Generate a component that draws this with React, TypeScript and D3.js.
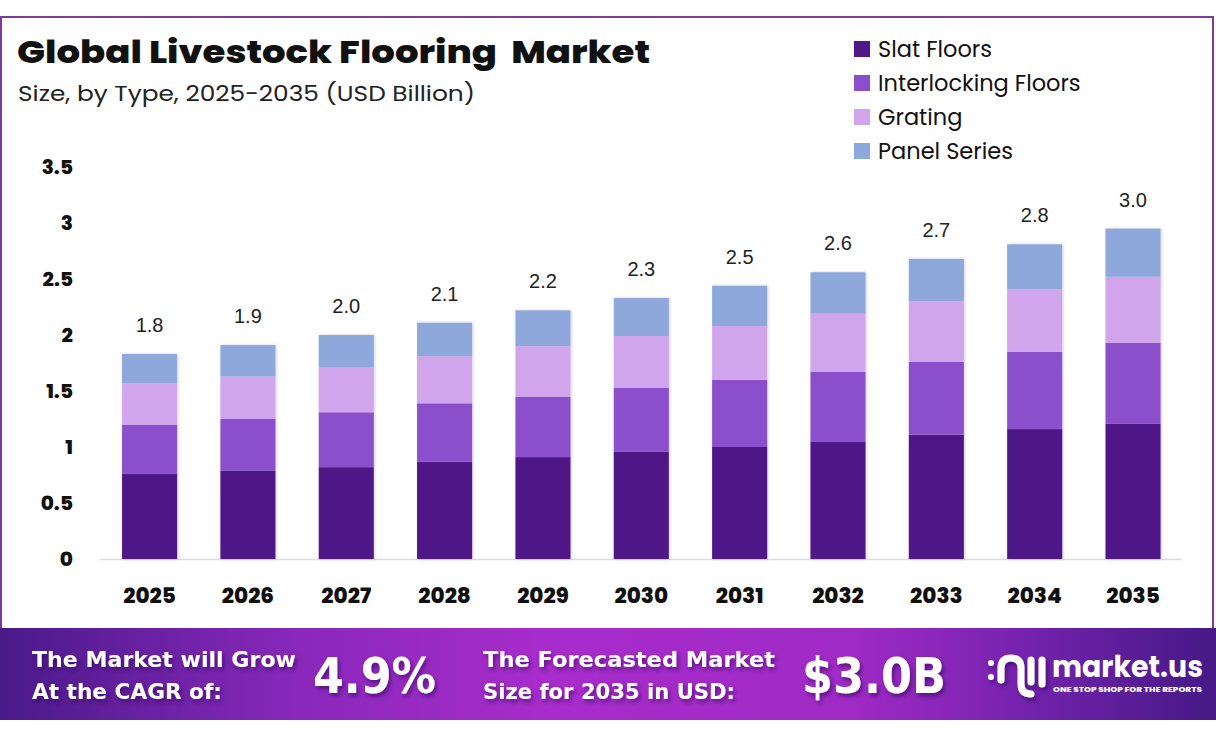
import React from "react";
import * as d3 from "d3";

const years = ["2025","2026","2027","2028","2029","2030","2031","2032","2033","2034","2035"];
const slatFloors = [0.76,0.79,0.82,0.87,0.91,0.96,1.0,1.05,1.11,1.16,1.21];
const interlockingFloors = [0.44,0.46,0.49,0.52,0.54,0.57,0.6,0.62,0.65,0.69,0.72];
const grating = [0.37,0.38,0.4,0.42,0.45,0.46,0.48,0.52,0.54,0.56,0.59];
const panelSeries = [0.26,0.28,0.29,0.3,0.32,0.34,0.36,0.37,0.38,0.4,0.43];
const totalLabels = ["1.8","1.9","2.0","2.1","2.2","2.3","2.5","2.6","2.7","2.8","3.0"];
const seriesNames = ["Slat Floors","Interlocking Floors","Grating","Panel Series"];
const seriesColors = ["#4f1787","#8b4fcc","#d1a5ec","#8ea8dc"];
const yTicks = [0,0.5,1,1.5,2,2.5,3,3.5];

const W = 1216, H = 738;

export default function App() {
  const x = d3.scaleBand<string>().domain(years).range([100.4, 1182.2]).paddingInner(0.44).paddingOuter(0.22);
  const y = d3.scaleLinear().domain([0, 3.5]).range([559, 167]);
  const table = years.map((yr, i) => ({
    year: yr,
    "Slat Floors": slatFloors[i],
    "Interlocking Floors": interlockingFloors[i],
    "Grating": grating[i],
    "Panel Series": panelSeries[i],
  }));
  const stack = d3.stack<any>().keys(seriesNames)(table);
  const totals = years.map((_, i) => slatFloors[i] + interlockingFloors[i] + grating[i] + panelSeries[i]);
  const font = "Poppins, Inter, 'Open Sans', sans-serif";

  return (
    <svg width={W} height={H} style={{ position: "absolute", left: 0, top: 0, background: "#fff" }} fontFamily={font}>
      <defs>
        <linearGradient id="foot" x1="0" x2="1" y1="0" y2="0">
          <stop offset="0" stopColor="#4a1a8a" />
          <stop offset="0.25" stopColor="#8a28bc" />
          <stop offset="0.45" stopColor="#a82ccb" />
          <stop offset="0.7" stopColor="#a02ac6" />
          <stop offset="0.85" stopColor="#7222ac" />
          <stop offset="1" stopColor="#461985" />
        </linearGradient>
        <filter id="barShadow" x="-20%" y="-10%" width="140%" height="120%">
          <feDropShadow dx="1" dy="0" stdDeviation="1.5" floodColor="#000" floodOpacity="0.18" />
        </filter>
        <filter id="txtShadow" x="-10%" y="-10%" width="130%" height="140%">
          <feDropShadow dx="2" dy="3" stdDeviation="2" floodColor="#2a0050" floodOpacity="0.55" />
        </filter>
      </defs>

      {/* frame */}
      <rect x={1} y={17} width={1212} height={620} fill="#fff" stroke="#7b3b9e" strokeWidth={2} />

      {/* title */}
      <text x={17} y={63} fontSize={32} fontWeight={800} fill="#111" textLength={633} lengthAdjust="spacingAndGlyphs">{"Global Livestock Flooring\u00A0 Market"}</text>
      <text x={18} y={101} fontSize={22} fontWeight={400} fill="#222" textLength={457} lengthAdjust="spacingAndGlyphs">Size, by Type, 2025-2035 (USD Billion)</text>

      {/* legend */}
      {seriesNames.map((n, i) => (
        <g key={n} transform={`translate(854, ${49 + i * 34})`}>
          <rect x={0} y={-8} width={16} height={16} fill={seriesColors[i]} />
          <text x={24} y={8} fontSize={22.5} fill="#111">{n}</text>
        </g>
      ))}

      {/* baseline */}
      <line x1={100} x2={1182} y1={559.5} y2={559.5} stroke="#dcdcdc" strokeWidth={1.5} />

      {/* y ticks */}
      {yTicks.map((t) => (
        <text key={t} x={73} y={y(t)} dy="0.35em" textAnchor="end" fontSize={20} fontWeight={800} fill="#111">{String(t)}</text>
      ))}

      {/* bars */}
      <g filter="url(#barShadow)">
        {stack.map((s, si) =>
          s.map((d, i) => (
            <rect key={`${si}-${i}`} x={x(years[i])} y={y(d[1])} width={x.bandwidth()} height={y(d[0]) - y(d[1])} fill={seriesColors[si]} />
          ))
        )}
      </g>

      {/* totals */}
      {years.map((yr, i) => (
        <text key={yr} x={(x(yr) as number) + x.bandwidth() / 2} y={y(totals[i]) - 22} textAnchor="middle" fontSize={20} fill="#222" fontFamily="'Liberation Sans', Arial, sans-serif">{totalLabels[i]}</text>
      ))}

      {/* x labels */}
      {years.map((yr) => (
        <text key={yr} x={(x(yr) as number) + x.bandwidth() / 2} y={603} textAnchor="middle" fontSize={21.5} fontWeight={800} fill="#111">{yr}</text>
      ))}

      {/* footer */}
      <rect x={0} y={628} width={W} height={92} fill="url(#foot)" />
      <g fill="#fff" fontFamily="'DejaVu Sans Condensed', 'Roboto Condensed', Roboto, sans-serif" fontWeight={700} filter="url(#txtShadow)">
        <text x={32} y={667} fontSize={22} textLength={264} lengthAdjust="spacingAndGlyphs">The Market will Grow</text>
        <text x={32} y={699} fontSize={22} textLength={190} lengthAdjust="spacingAndGlyphs">At the CAGR of:</text>
        <text x={313} y={693} fontSize={50} textLength={123} lengthAdjust="spacingAndGlyphs">4.9%</text>
        <text x={483} y={667} fontSize={22} textLength={292} lengthAdjust="spacingAndGlyphs">The Forecasted Market</text>
        <text x={483} y={699} fontSize={22} textLength={252} lengthAdjust="spacingAndGlyphs">Size for 2035 in USD:</text>
        <text x={802} y={693} fontSize={50} textLength={144} lengthAdjust="spacingAndGlyphs">$3.0B</text>
      </g>

      {/* logo */}
      <g fill="none" stroke="#fff" strokeWidth={7} strokeLinecap="round" filter="url(#txtShadow)">
        <circle cx={991} cy={663} r={3} fill="#fff" stroke="none" />
        <circle cx={991} cy={677} r={3} fill="#fff" stroke="none" />
        <path d="M1001,680 L1001,668 Q1001,658 1011,658 Q1021,658 1021,668 L1021,684 Q1021,694 1031,694" />
        <line x1={1031} y1={660} x2={1031} y2={682} />
        <line x1={1042} y1={660} x2={1042} y2={684} />
      </g>
      <text x={1052} y={677} fontSize={29} fontWeight={700} fill="#fff" textLength={151} lengthAdjust="spacingAndGlyphs" fontFamily="Poppins, Inter, sans-serif">market.us</text>
      <text x={1053} y={692} fontSize={6} fontWeight={800} fill="#fff" textLength={149} lengthAdjust="spacingAndGlyphs">ONE STOP SHOP FOR THE REPORTS</text>
    </svg>
  );
}
